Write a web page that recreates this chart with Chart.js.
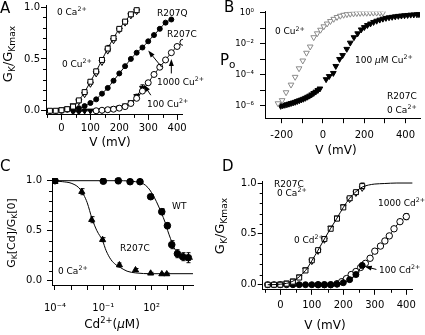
<!DOCTYPE html>
<html lang="en">
<head>
<meta charset="UTF-8">
<title>R207C conductance panels</title>
<script src="https://cdn.jsdelivr.net/npm/chart.js"></script>
<style>
  body { margin: 0; background: #fff; }
  #fig { position: relative; width: 425px; height: 335px; overflow: hidden;
         font-family: "DejaVu Sans", Verdana, sans-serif; color: #000; }
  #fig canvas { position: absolute; }
  .t { position: absolute; font-size: 9px; line-height: 1; white-space: nowrap; }
  .t sup { font-size: 0.7em; position: relative; top: -0.55em; vertical-align: baseline; }
  .t sub { font-size: 0.7em; position: relative; top: 0.3em; vertical-align: baseline; }
  .L { font-size: 15px; }
  .ax { font-size: 12px; transform: translate(-50%, -50%); }
  .yt { font-size: 13px; transform: translate(-50%, -50%) rotate(-90deg); }
</style>
</head>
<body>
<div id="fig">
  <canvas id="cA" width="212" height="168" style="left:0;top:0"></canvas>
  <canvas id="cB" width="213" height="168" style="left:212px;top:0"></canvas>
  <canvas id="cC" width="212" height="167" style="left:0;top:168px"></canvas>
  <canvas id="cD" width="213" height="167" style="left:212px;top:168px"></canvas>

  <!-- panel A -->
  <div class="t L" style="left:0;top:1px">A</div>
  <div class="t yt" style="left:8px;top:54px">G<sub>K</sub>/G<sub>Kmax</sub></div>
  <div class="t ax" style="left:110px;top:142px">V (mV)</div>
  <div class="t" style="left:57px;top:7.7px">0 Ca<sup>2+</sup></div>
  <div class="t" style="left:157px;top:8.7px">R207Q</div>
  <div class="t" style="left:167px;top:29.7px">R207C</div>
  <div class="t" style="left:62px;top:59.7px">0 Cu<sup>2+</sup></div>
  <div class="t" style="left:157px;top:77.7px">1000 Cu<sup>2+</sup></div>
  <div class="t" style="left:147px;top:99.7px">100 Cu<sup>2+</sup></div>

  <!-- panel B -->
  <div class="t L" style="left:224px;top:0">B</div>
  <div class="t" style="left:220px;top:53px;font-size:15px">P<sub>o</sub></div>
  <div class="t ax" style="left:336px;top:150px">V (mV)</div>
  <div class="t" style="left:275px;top:27.4px">0 Cu<sup>2+</sup></div>
  <div class="t" style="left:355px;top:55.7px">100 <i>µ</i>M Cu<sup>2+</sup></div>
  <div class="t" style="left:387px;top:91.6px">R207C</div>
  <div class="t" style="left:387px;top:105.7px">0 Ca<sup>2+</sup></div>

  <!-- panel C -->
  <div class="t L" style="left:0;top:159px">C</div>
  <div class="t yt" style="left:11px;top:233px;font-size:11px">G<sub>K</sub>[Cd]/G<sub>K</sub>[0]</div>
  <div class="t ax" style="left:112px;top:324px">Cd<sup>2+</sup>(<i>µ</i>M)</div>
  <div class="t" style="left:172px;top:201.7px">WT</div>
  <div class="t" style="left:120px;top:243.7px">R207C</div>
  <div class="t" style="left:58px;top:266.7px">0 Ca<sup>2+</sup></div>

  <!-- panel D -->
  <div class="t L" style="left:222px;top:159px">D</div>
  <div class="t yt" style="left:220px;top:226px">G<sub>K</sub>/G<sub>Kmax</sub></div>
  <div class="t ax" style="left:325px;top:325px">V (mV)</div>
  <div class="t" style="left:274px;top:179.7px">R207C</div>
  <div class="t" style="left:277px;top:188.7px">0 Ca<sup>2+</sup></div>
  <div class="t" style="left:294px;top:235.7px">0 Cd<sup>2+</sup></div>
  <div class="t" style="left:378px;top:198.7px">1000 Cd<sup>2+</sup></div>
  <div class="t" style="left:379px;top:265.7px">100 Cd<sup>2+</sup></div>
</div>

<script>
// ---- panel A: GK/GKmax vs V, Cu2+ ----
const aV0Cu = [-40, -20, 0, 20, 40, 60, 80, 100, 120, 140, 160, 180, 200, 220, 240, 260];
const aSq0Cu = [0, 0, 0.005, 0.015, 0.04, 0.1, 0.18, 0.28, 0.38, 0.49, 0.6, 0.7, 0.79, 0.86, 0.93, 0.97];
const aTri0Cu = [0, 0, 0.01, 0.02, 0.05, 0.09, 0.16, 0.26, 0.36, 0.47, 0.58, 0.68, 0.78, 0.85, 0.92, 0.96];
const aVQ = [0, 20, 40, 60, 80, 100, 120, 140, 160, 180, 200, 220, 240, 260, 280, 300, 320, 340, 360, 380];
const aR207Q = [0, 0.01, 0.015, 0.025, 0.045, 0.075, 0.11, 0.165, 0.22, 0.29, 0.36, 0.43, 0.5, 0.56, 0.61, 0.67, 0.73, 0.79, 0.85, 0.88];
const aV1000 = [120, 140, 160, 180, 200, 220, 240, 260, 280, 300, 320, 340, 360, 380, 400, 420];
const a1000Cu = [0, 0.005, 0.01, 0.015, 0.025, 0.04, 0.07, 0.12, 0.19, 0.27, 0.35, 0.42, 0.49, 0.56, 0.62, 0.66];
const aV100 = [40, 60, 80, 100, 120, 140, 160, 180, 200, 220, 240, 260, 280];
const a100Cu = [-0.01, -0.01, 0, 0, 0, 0.005, 0.01, 0.02, 0.03, 0.05, 0.08, 0.14, 0.22];

// ---- panel B: Po (log10) vs V ----
const bV0 = [-218, -198, -179, -155, -135, -116, -98, -80, -62, -45, -28, -12, 4, 20, 36, 52, 68, 84, 100, 116, 132, 148, 164, 180, 196, 212, 228, 244, 260, 276, 290];
const bLog0 = [-5.85, -5.65, -5.14, -4.65, -4.15, -3.6, -3.1, -2.6, -2.2, -1.6, -1.35, -1.12, -0.9, -0.72, -0.56, -0.42, -0.3, -0.22, -0.16, -0.12, -0.09, -0.07, -0.05, -0.04, -0.03, -0.03, -0.02, -0.02, -0.02, -0.02, -0.02];
const bV100 = [-205, -195, -185, -175, -165, -155, -145, -135, -125, -115, -105, -95, -85, -75, -65, -55, -45, -35, -25, -15,
               15, 30, 50, 62, 80, 95, 115, 132, 150, 168, 185, 200, 215, 230, 245, 260, 275, 290, 305, 320, 335, 350, 365, 380, 395, 410, 425, 440, 455, 465];
const bLog100 = [-6.02, -5.98, -5.95, -5.92, -5.88, -5.84, -5.8, -5.76, -5.71, -5.66, -5.61, -5.56, -5.5, -5.43, -5.36, -5.28, -5.19, -5.1, -5.0, -4.9,
                 -4.3, -4.1, -3.9, -3.45, -3.0, -2.75, -2.35, -1.95, -1.6, -1.35, -1.1, -0.95, -0.82, -0.72, -0.62, -0.54, -0.47, -0.41, -0.36, -0.32, -0.29, -0.26, -0.23, -0.21, -0.19, -0.17, -0.15, -0.14, -0.13, -0.12];

// ---- panel C: GK[Cd]/GK[0] vs [Cd2+] ----
const cConcC = [0.0001, 0.0046, 0.019, 0.09, 1, 10, 87, 430, 870];
const cR207C = [0.99, 0.89, 0.61, 0.41, 0.157, 0.107, 0.074, 0.067, 0.067];
const cErrC = [0.01, 0.03, 0.03, 0.02, 0.02, 0.015, 0.01, 0.01, 0.01];
const cConcWT = [0.0001, 0.1, 0.85, 4.6, 19, 87, 427, 955, 1780, 4000, 8500, 19000];
const cWT = [1.0, 0.995, 1.0, 0.99, 0.99, 0.84, 0.69, 0.55, 0.36, 0.27, 0.24, 0.23];
const cErrWT = [0.01, 0.01, 0.03, 0.02, 0.02, 0.02, 0.03, 0.03, 0.04, 0.04, 0.04, 0.05];
const cFitCx = [6.5e-5, 3e-4, 1e-3, 3e-3, 6e-3, 0.01, 0.02, 0.04, 0.09, 0.15, 0.3, 0.6, 1.2, 3, 10, 100, 1000, 37000];
const cFitC = [1.0, 0.99, 0.975, 0.93, 0.86, 0.78, 0.62, 0.5, 0.4, 0.3, 0.21, 0.16, 0.13, 0.095, 0.078, 0.07, 0.07, 0.07];
const cFitWx = [6.5e-5, 1, 10, 30, 60, 100, 200, 400, 700, 1000, 1500, 2500, 4000, 8000, 37000];
const cFitW = [1.0, 1.0, 0.99, 0.97, 0.93, 0.88, 0.79, 0.68, 0.58, 0.5, 0.42, 0.33, 0.28, 0.24, 0.215];

// ---- panel D: GK/GKmax vs V, Cd2+ ----
const dV0 = [-40, -20, 0, 20, 40, 60, 80, 100, 120, 140, 160, 180, 200, 220, 240, 260];
const dSq0Cd = [0, 0, 0, 0.01, 0.03, 0.07, 0.14, 0.24, 0.34, 0.45, 0.55, 0.65, 0.76, 0.85, 0.91, 0.97];
const dTri0Cd = [0, 0, 0.01, 0.02, 0.04, 0.08, 0.15, 0.23, 0.33, 0.44, 0.56, 0.66, 0.77, 0.84, 0.9, 0.95];
const dFitV = [-40, 0, 40, 80, 100, 120, 140, 160, 180, 200, 220, 240, 260, 280, 300, 330, 370, 420];
const dFit0 = [0, 0.005, 0.035, 0.14, 0.235, 0.34, 0.45, 0.555, 0.655, 0.76, 0.85, 0.915, 0.96, 0.98, 0.99, 0.995, 1.0, 1.0];
const d100Cd = [0, 0, 0, 0, 0, 0, 0, 0, 0, 0, 0, 0.005, 0.02, 0.05, 0.1, 0.19];
const dV1000 = [120, 140, 160, 180, 195, 210, 225, 240, 255, 270, 285, 300, 318, 332, 346, 361, 380, 400];
const d1000Cd = [0, 0, 0, 0.01, 0.03, 0.06, 0.1, 0.13, 0.17, 0.21, 0.26, 0.33, 0.38, 0.43, 0.48, 0.55, 0.62, 0.67];

const FONT = "DejaVu Sans";
const SUP = {'-': '⁻', '0': '⁰', '1': '¹', '2': '²', '3': '³', '4': '⁴', '5': '⁵', '6': '⁶', '7': '⁷', '8': '⁸', '9': '⁹'};
const pow10Label = v => '10' + String(Math.round(Math.log10(v))).split('').map(c => SUP[c]).join('');

function pts(xs, ys) { return xs.map((x, i) => ({x: x, y: ys[i]})); }

// error bars, minor ticks, arrows
const igor = {
  id: 'igor',
  beforeDatasetsDraw(chart) {
    const {ctx, scales: {x, y}} = chart;
    ctx.save();
    ctx.strokeStyle = '#000';
    ctx.lineWidth = 1;
    chart.data.datasets.forEach(ds => {
      if (!ds.err) return;
      ds.data.forEach((p, i) => {
        const e = ds.err[i];
        if (!e) return;
        const px = Math.round(x.getPixelForValue(p.x)) + 0.5;
        const y1 = y.getPixelForValue(p.y - e), y2 = y.getPixelForValue(p.y + e);
        ctx.beginPath();
        ctx.moveTo(px, y1); ctx.lineTo(px, y2);
        ctx.moveTo(px - 2, y1); ctx.lineTo(px + 2, y1);
        ctx.moveTo(px - 2, y2); ctx.lineTo(px + 2, y2);
        ctx.stroke();
      });
    });
    ctx.restore();
  },
  afterDraw(chart, args, opts) {
    const {ctx, chartArea: a, scales: {x, y}} = chart;
    ctx.save();
    ctx.strokeStyle = '#000';
    ctx.fillStyle = '#000';
    ctx.lineWidth = 1;
    ctx.beginPath();
    (opts.minorX || []).forEach(v => {
      const px = Math.round(x.getPixelForValue(v)) + 0.5;
      ctx.moveTo(px, a.bottom); ctx.lineTo(px, a.bottom + 3);
    });
    (opts.minorY || []).forEach(v => {
      const py = Math.round(y.getPixelForValue(v)) + 0.5;
      ctx.moveTo(a.left - 3, py); ctx.lineTo(a.left, py);
    });
    ctx.stroke();
    (opts.arrows || []).forEach(([x1, y1, x2, y2]) => {
      const ax = x.getPixelForValue(x1), ay = y.getPixelForValue(y1);
      const bx = x.getPixelForValue(x2), by = y.getPixelForValue(y2);
      const t = Math.atan2(by - ay, bx - ax), c = Math.cos(t), s = Math.sin(t);
      ctx.beginPath();
      ctx.moveTo(ax, ay); ctx.lineTo(bx - 5 * c, by - 5 * s);
      ctx.stroke();
      ctx.beginPath();
      ctx.moveTo(bx, by);
      ctx.lineTo(bx - 7 * c + 2.5 * s, by - 7 * s - 2.5 * c);
      ctx.lineTo(bx - 7 * c - 2.5 * s, by - 7 * s + 2.5 * c);
      ctx.closePath();
      ctx.fill();
    });
    ctx.restore();
  }
};
Chart.register(igor);

function marker(style, filled, r, extra) {
  return Object.assign({
    pointStyle: style,
    pointRadius: r,
    pointBorderWidth: 1,
    pointBorderColor: '#000',
    pointBackgroundColor: filled ? '#000' : '#fff',
    borderColor: '#000',
    borderWidth: 1,
    showLine: false,
    cubicInterpolationMode: 'monotone'
  }, extra || {});
}

function axis(o) {
  return {
    type: o.type || 'linear',
    min: o.min, max: o.max,
    border: {display: true, color: '#000', width: 1},
    grid: {display: true, drawOnChartArea: false, drawTicks: true, tickLength: 5, color: '#000', lineWidth: 1},
    ticks: {autoSkip: false, maxRotation: 0, color: '#000', padding: o.pad,
            font: {family: FONT, size: o.size || 10}, callback: o.label},
    afterBuildTicks: s => { s.ticks = o.major.map(v => ({value: v})); },
    afterFit: s => {
      s[o.dim] = o.px;
      s.paddingTop = 0; s.paddingBottom = 0; s.paddingLeft = 0; s.paddingRight = 0;
    }
  };
}

function panel(id, datasets, xs, ys, pad, extra) {
  return new Chart(document.getElementById(id), {
    type: 'scatter',
    data: {datasets: datasets},
    options: {
      responsive: false,
      animation: false,
      events: [],
      devicePixelRatio: 1,
      layout: {padding: {top: pad.top, right: pad.right, left: 0, bottom: 0}},
      elements: {line: {tension: 0}},
      scales: {x: axis(xs), y: axis(ys)},
      plugins: {legend: {display: false}, tooltip: {enabled: false}, igor: extra}
    }
  });
}

const fix1 = v => v.toFixed(1);

// A
panel('cA', [
  marker('rect', false, 3.5, {data: pts(aV0Cu, aSq0Cu), showLine: true,
    err: [0, 0, 0, 0, 0, 0, 0, 0.02, 0.02, 0.02, 0.03, 0.02, 0.02, 0.02, 0.02, 0.02]}),
  marker('triangle', false, 3.5, {data: pts(aV0Cu, aTri0Cu), pointRotation: 180}),
  marker('circle', true, 2.5, {data: pts(aVQ, aR207Q), showLine: true}),
  marker('circle', false, 3, {data: pts(aV1000, a1000Cu), showLine: true}),
  marker('triangle', true, 3.3, {data: pts(aV100, a100Cu), pointRotation: 180, showLine: true,
    err: [0, 0, 0, 0, 0, 0, 0, 0, 0, 0, 0.01, 0.02, 0.03]})
], {dim: 'height', px: 53.1, min: -53.6, max: 420, pad: 3, major: [0, 100, 200, 300, 400], label: v => String(v)},
   {dim: 'width', px: 46, min: -0.04, max: 1.02, pad: 1, major: [0, 0.5, 1], label: fix1},
   {top: 4.6, right: 29.1},
   {minorX: [-50, 50, 150, 250, 350], minorY: [0.1, 0.2, 0.3, 0.4, 0.6, 0.7, 0.8, 0.9],
    arrows: [[347, 0.42, 300, 0.58], [380, 0.36, 380, 0.5], [309, 0.15, 285, 0.25]]});

// B
panel('cB', [
  marker('triangle', false, 3.3, {data: pts(bV0, bLog0.map(e => Math.pow(10, e))), pointRotation: 180,
    pointBorderColor: '#8a8a8a'}),
  marker('triangle', true, 3.3, {data: pts(bV100, bLog100.map(e => Math.pow(10, e))), pointRotation: 180})
], {dim: 'height', px: 49.8, min: -281, max: 470, pad: 6, major: [-200, -100, 0, 100, 200, 300, 400],
    label: v => (v % 200 === 0 ? String(v) : '')},
   {type: 'logarithmic', dim: 'width', px: 53, min: Math.pow(10, -6.8), max: Math.pow(10, 0.05), pad: 6, size: 8.5,
    major: [1e-6, 1e-5, 1e-4, 1e-3, 1e-2, 1e-1, 1],
    label: v => (Math.round(Math.log10(v)) % 2 === 0 ? pow10Label(v) : '')},
   {top: 11.7, right: 2.3}, {});

// C
panel('cC', [
  marker('circle', false, 0, {data: pts(cFitCx, cFitC), showLine: true}),
  marker('circle', false, 0, {data: pts(cFitWx, cFitW), showLine: true}),
  marker('triangle', true, 3.5, {data: pts(cConcC, cR207C), err: cErrC}),
  marker('circle', true, 3.3, {data: pts(cConcWT, cWT), err: cErrWT})
], {type: 'logarithmic', dim: 'height', px: 50, min: Math.pow(10, -4.186), max: Math.pow(10, 4.57), pad: 12,
    major: [1e-4, 1e-3, 1e-2, 1e-1, 1, 10, 100, 1e3, 1e4],
    label: v => ([-4, -1, 2].includes(Math.round(Math.log10(v))) ? pow10Label(v) : '')},
   {dim: 'width', px: 52, min: -0.043, max: 1.027, pad: 5, major: [0, 0.5, 1], label: fix1},
   {top: 10, right: 19},
   {minorY: [0.1, 0.2, 0.3, 0.4, 0.6, 0.7, 0.8, 0.9]});

// D
panel('cD', [
  marker('circle', false, 0, {data: pts(dFitV, dFit0), showLine: true}),
  marker('rect', false, 3.5, {data: pts(dV0, dSq0Cd),
    err: [0, 0, 0, 0, 0, 0, 0, 0, 0, 0, 0, 0.02, 0.02, 0.02, 0.02, 0.03]}),
  marker('triangle', false, 3.3, {data: pts(dV0, dTri0Cd), pointRotation: 180}),
  marker('circle', true, 3, {data: pts(dV0, d100Cd), showLine: true,
    err: [0, 0, 0, 0, 0, 0, 0, 0, 0, 0, 0, 0, 0, 0.01, 0.02, 0.02]}),
  marker('circle', false, 3.2, {data: pts(dV1000, d1000Cd), showLine: true,
    err: [0, 0, 0, 0, 0, 0, 0, 0, 0, 0, 0, 0.02, 0, 0, 0, 0, 0, 0.03]})
], {dim: 'height', px: 45.2, min: -55.9, max: 420, pad: 5, major: [0, 100, 200, 300, 400], label: v => String(v)},
   {dim: 'width', px: 50.7, min: -0.05, max: 1.017, pad: 1, major: [0, 0.5, 1], label: fix1},
   {top: 13.3, right: 12.4},
   {minorX: [-50, 50, 150, 250, 350], minorY: [0.1, 0.2, 0.3, 0.4, 0.6, 0.7, 0.8, 0.9],
    arrows: [[305, 0.15, 268, 0.18]]});
</script>
</body>
</html>
